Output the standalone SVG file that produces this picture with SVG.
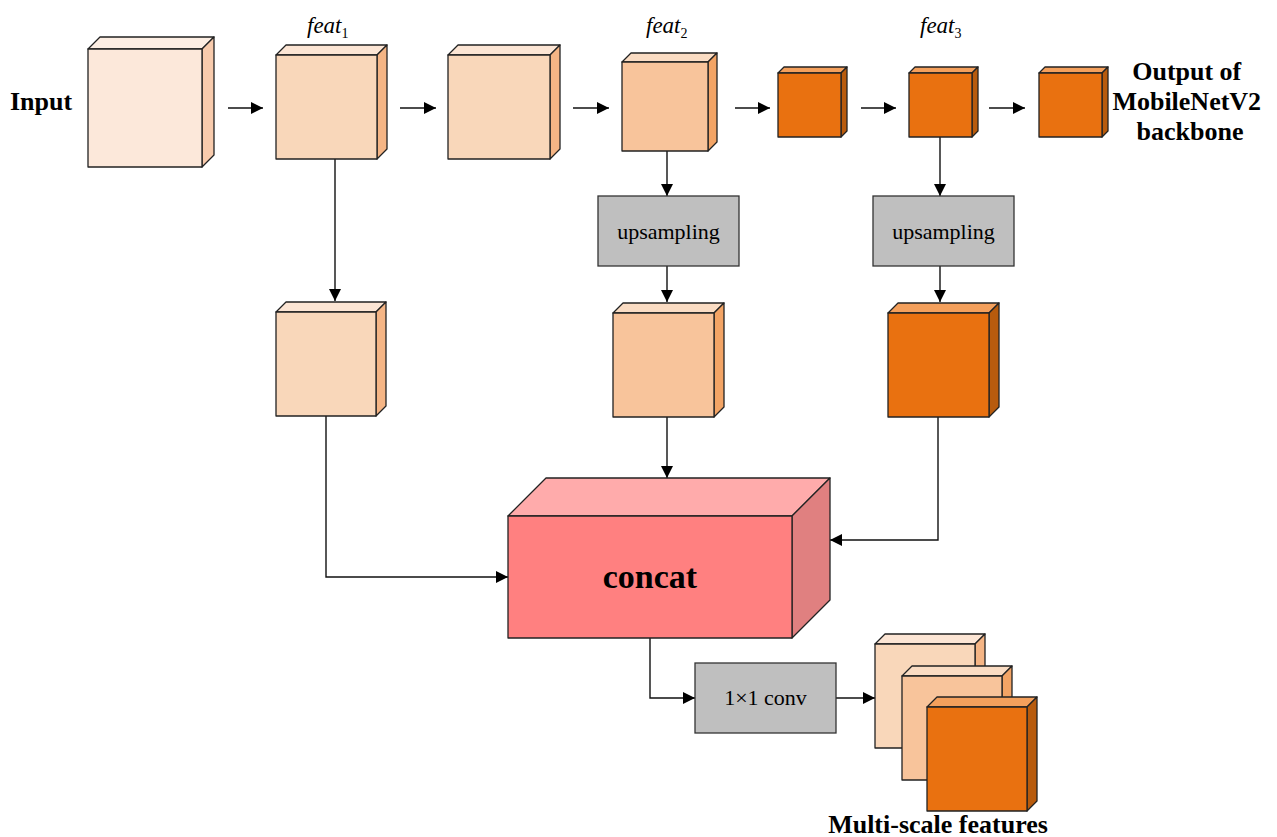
<svg xmlns="http://www.w3.org/2000/svg" width="1277" height="837" viewBox="0 0 1277 837">
  <defs>
    <marker id="arrow" viewBox="0 0 12 12" refX="12" refY="6" markerWidth="12" markerHeight="12" markerUnits="userSpaceOnUse" orient="auto">
      <path d="M0,0 L12,6 L0,12 Z" fill="#000"/>
    </marker>
    <style>
      .edge { fill: none; stroke: #111; stroke-width: 1.4; marker-end: url(#arrow); }
      .face { stroke: #222; stroke-width: 1.3; stroke-linejoin: round; }
      .c1 .front { fill: #FCE8DA; } .c1 .top { fill: #FDEEE3; } .c1 .side { fill: #F8CBAD; }
      .c2 .front { fill: #F9D7BA; } .c2 .top { fill: #FCE5D4; } .c2 .side { fill: #F5B585; }
      .c3 .front { fill: #F8C49B; } .c3 .top { fill: #FADCC3; } .c3 .side { fill: #F3A465; }
      .c4 .front { fill: #E97110; } .c4 .top { fill: #F4A05C; } .c4 .side { fill: #B85B0D; }
      .cc .front { fill: #FF8080; } .cc .top { fill: #FFABAB; } .cc .side { fill: #E08080; }
      .box { fill: #BFBFBF; stroke: #333; stroke-width: 1.3; }
      .serif { font-family: "Liberation Serif", "Times New Roman", serif; fill: #000; }
      .bold { font-weight: bold; font-size: 26px; }
      .label { font-size: 22px; }
      .feat { font-style: italic; font-size: 23px; }
      .sub { font-size: 14px; font-style: normal; }
    </style>
  </defs>
  <rect width="1277" height="837" fill="#fff"/>

  <!-- connectors -->
  <g id="connectors">
    <line class="edge" x1="228" y1="108" x2="263" y2="108"/>
    <line class="edge" x1="400" y1="108" x2="436" y2="108"/>
    <line class="edge" x1="573" y1="108" x2="609" y2="108"/>
    <line class="edge" x1="735" y1="108" x2="770" y2="108"/>
    <line class="edge" x1="861" y1="108" x2="896" y2="108"/>
    <line class="edge" x1="989" y1="108" x2="1025" y2="108"/>
    <line class="edge" x1="335" y1="159" x2="335" y2="301"/>
    <line class="edge" x1="667" y1="151" x2="667" y2="196"/>
    <line class="edge" x1="667" y1="266" x2="667" y2="302"/>
    <line class="edge" x1="940" y1="137" x2="940" y2="196"/>
    <line class="edge" x1="940" y1="266" x2="940" y2="302"/>
    <polyline class="edge" points="326,416 326,577 508,577"/>
    <line class="edge" x1="667" y1="417" x2="667" y2="478"/>
    <polyline class="edge" points="938,417 938,540 830,540"/>
    <polyline class="edge" points="650,638 650,698 695,698"/>
    <line class="edge" x1="836" y1="698" x2="875" y2="698"/>
  </g>

  <!-- backbone row -->
  <g id="input-cube" class="c1">
    <path class="face top" d="M88,49 L100,37 L214,37 L202,49 Z"/>
    <path class="face side" d="M202,49 L214,37 L214,155 L202,167 Z"/>
    <rect class="face front" x="88" y="49" width="114" height="118"/>
  </g>
  <text id="input-label" class="serif bold" x="10" y="110">Input</text>

  <g id="feat1-cube" class="c2">
    <path class="face top" d="M276,55 L286,45 L387,45 L377,55 Z"/>
    <path class="face side" d="M377,55 L387,45 L387,149 L377,159 Z"/>
    <rect class="face front" x="276" y="55" width="101" height="104"/>
  </g>
  <text id="feat1-label" class="serif feat" x="307" y="33">feat<tspan class="sub" dy="5">1</tspan></text>

  <g id="stage2-cube" class="c2">
    <path class="face top" d="M448,55 L458,45 L560,45 L550,55 Z"/>
    <path class="face side" d="M550,55 L560,45 L560,149 L550,159 Z"/>
    <rect class="face front" x="448" y="55" width="102" height="104"/>
  </g>

  <g id="feat2-cube" class="c3">
    <path class="face top" d="M622,62 L631,53 L717,53 L708,62 Z"/>
    <path class="face side" d="M708,62 L717,53 L717,142 L708,151 Z"/>
    <rect class="face front" x="622" y="62" width="86" height="89"/>
  </g>
  <text id="feat2-label" class="serif feat" x="646" y="33">feat<tspan class="sub" dy="5">2</tspan></text>

  <g id="stage4-cube" class="c4">
    <path class="face top" d="M778,73 L784,67 L847,67 L841,73 Z"/>
    <path class="face side" d="M841,73 L847,67 L847,131 L841,137 Z"/>
    <rect class="face front" x="778" y="73" width="63" height="64"/>
  </g>

  <g id="feat3-cube" class="c4">
    <path class="face top" d="M909,73 L915,67 L978,67 L972,73 Z"/>
    <path class="face side" d="M972,73 L978,67 L978,131 L972,137 Z"/>
    <rect class="face front" x="909" y="73" width="63" height="64"/>
  </g>
  <text id="feat3-label" class="serif feat" x="920" y="33">feat<tspan class="sub" dy="5">3</tspan></text>

  <g id="output-cube" class="c4">
    <path class="face top" d="M1039,73 L1045,67 L1108,67 L1102,73 Z"/>
    <path class="face side" d="M1102,73 L1108,67 L1108,131 L1102,137 Z"/>
    <rect class="face front" x="1039" y="73" width="63" height="64"/>
  </g>
  <text id="output-label" class="serif bold" text-anchor="middle">
    <tspan x="1190" y="80">Output of</tspan>
    <tspan x="1190" y="110">MobileNetV2</tspan>
    <tspan x="1190" y="140">backbone</tspan>
  </text>

  <!-- upsampling blocks -->
  <g id="upsampling-1">
    <rect class="box" x="598" y="196" width="141" height="70"/>
    <text class="serif label" x="668.5" y="239" text-anchor="middle">upsampling</text>
  </g>
  <g id="upsampling-2">
    <rect class="box" x="873" y="196" width="141" height="70"/>
    <text class="serif label" x="943.5" y="239" text-anchor="middle">upsampling</text>
  </g>

  <!-- aligned feature maps -->
  <g id="feat1-aligned" class="c2">
    <path class="face top" d="M276,312 L286,302 L386,302 L376,312 Z"/>
    <path class="face side" d="M376,312 L386,302 L386,406 L376,416 Z"/>
    <rect class="face front" x="276" y="312" width="100" height="104"/>
  </g>
  <g id="feat2-aligned" class="c3">
    <path class="face top" d="M613,313 L623,303 L724,303 L714,313 Z"/>
    <path class="face side" d="M714,313 L724,303 L724,407 L714,417 Z"/>
    <rect class="face front" x="613" y="313" width="101" height="104"/>
  </g>
  <g id="feat3-aligned" class="c4">
    <path class="face top" d="M888,313 L898,303 L999,303 L989,313 Z"/>
    <path class="face side" d="M989,313 L999,303 L999,407 L989,417 Z"/>
    <rect class="face front" x="888" y="313" width="101" height="104"/>
  </g>

  <!-- concatenation block -->
  <g id="concat" class="cc">
    <path class="face top" d="M508,516 L546,478 L830,478 L792,516 Z"/>
    <path class="face side" d="M792,516 L830,478 L830,600 L792,638 Z"/>
    <rect class="face front" x="508" y="516" width="284" height="122"/>
    <text class="serif" x="650" y="588" text-anchor="middle" font-weight="bold" font-size="34">concat</text>
  </g>

  <!-- 1x1 convolution -->
  <g id="conv1x1">
    <rect class="box" x="695" y="663" width="141" height="70"/>
    <text class="serif label" x="765.5" y="705" text-anchor="middle">1×1 conv</text>
  </g>

  <!-- multi-scale outputs -->
  <g id="multiscale-1" class="c2">
    <path class="face top" d="M875,644 L885,634 L985,634 L975,644 Z"/>
    <path class="face side" d="M975,644 L985,634 L985,738 L975,748 Z"/>
    <rect class="face front" x="875" y="644" width="100" height="104"/>
  </g>
  <g id="multiscale-2" class="c3">
    <path class="face top" d="M902,676 L912,666 L1012,666 L1002,676 Z"/>
    <path class="face side" d="M1002,676 L1012,666 L1012,770 L1002,780 Z"/>
    <rect class="face front" x="902" y="676" width="100" height="104"/>
  </g>
  <g id="multiscale-3" class="c4">
    <path class="face top" d="M927,707 L937,697 L1037,697 L1027,707 Z"/>
    <path class="face side" d="M1027,707 L1037,697 L1037,801 L1027,811 Z"/>
    <rect class="face front" x="927" y="707" width="100" height="104"/>
  </g>
  <text id="multiscale-label" class="serif bold" x="938" y="833" text-anchor="middle">Multi-scale features</text>
</svg>
